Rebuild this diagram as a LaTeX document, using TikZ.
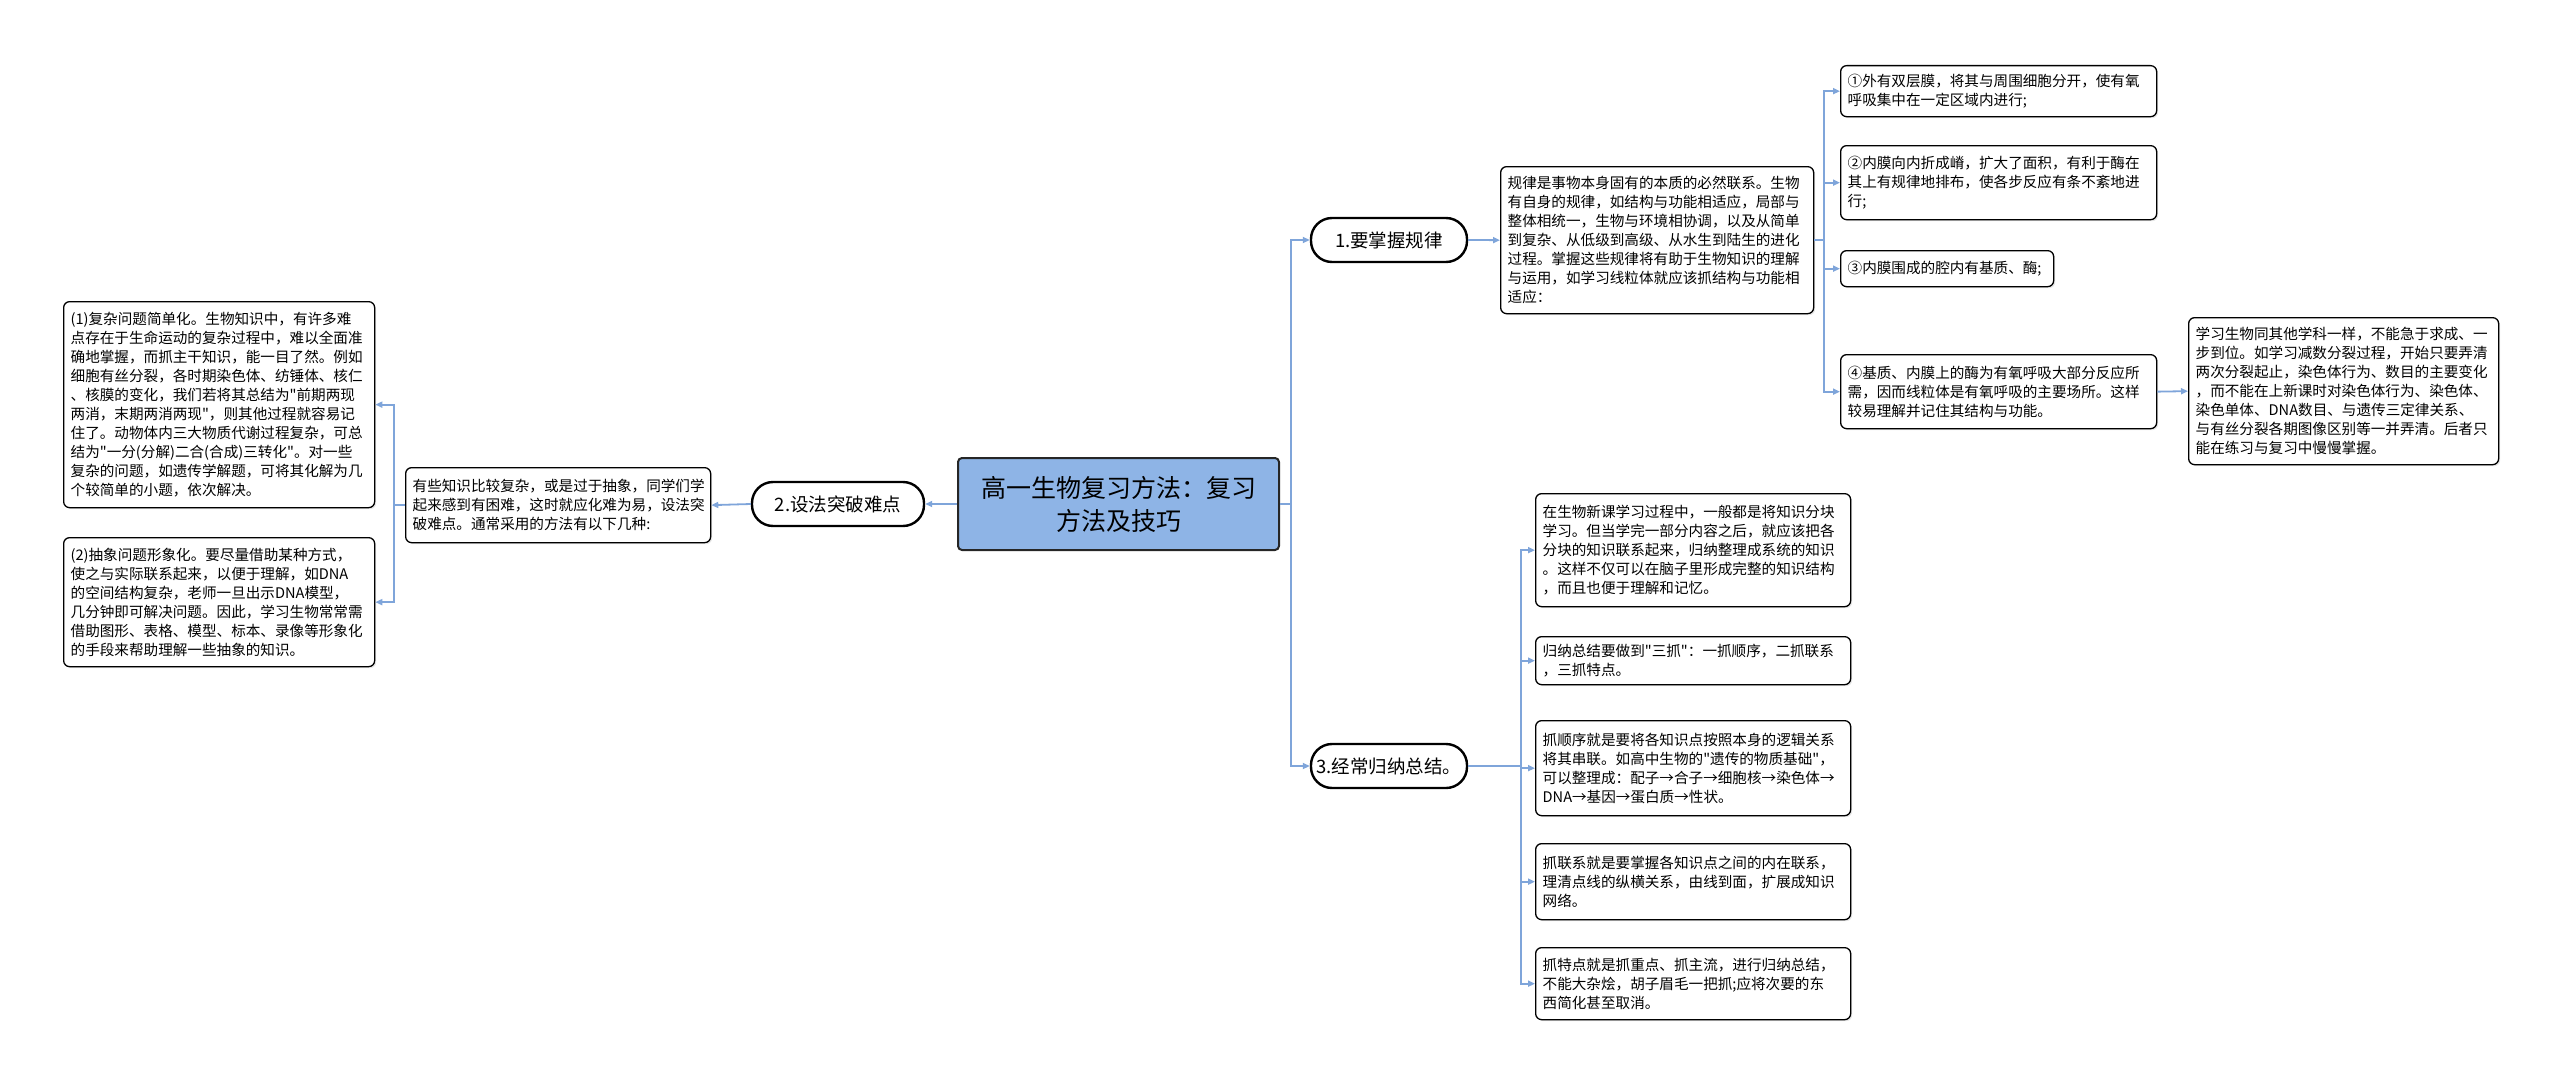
\documentclass[tikz,border=0pt]{standalone}
\usepackage{fontspec}
\newfontfamily\cjk{Noto Sans CJK SC}
\usetikzlibrary{arrows.meta, shadows}
\definecolor{rotblue}{HTML}{8EB4E6}
\definecolor{kantblue}{HTML}{7FA5DA}

\begin{document}
\begin{tikzpicture}[
    x=1pt, y=-1pt,
    rot/.style={rectangle, rounded corners=4pt, draw=black!85, line width=2pt,
        fill=rotblue, align=center, font=\cjk\fontsize{25}{33}\selectfont,
        minimum width=321pt, minimum height=92pt},
    gren/.style={rectangle, rounded corners=21pt, draw=black, line width=2.4pt,
        fill=white, font=\cjk\fontsize{18.5}{22}\selectfont, minimum height=44pt},
    blad/.style={rectangle, rounded corners=6pt, draw=black, line width=1.3pt,
        fill=white, drop shadow={opacity=0.2, shadow xshift=1.5pt, shadow yshift=-1.5pt},
        anchor=north west, align=left, inner xsep=7pt, inner ysep=4pt,
        font=\cjk\fontsize{14.6}{19}\selectfont},
    pil/.style={draw=kantblue, line width=1.8pt, -{Triangle[length=7pt, width=6pt]}}
    ]
\useasboundingbox (0,0) rectangle (2560,1081);

\node[rot] (rot) at (1118.5,504) {高一生物复习方法：复习\\方法及技巧};

%Upper part, lv1
\node[gren, minimum width=156pt] (regel) at (1389,240) {1.要掌握规律};
\node[blad, text width=299pt, minimum height=147pt] (lov) at (1500,166) {
    规律是事物本身固有的本质的必然联系。生物\\
    有自身的规律，如结构与功能相适应，局部与\\
    整体相统一，生物与环境相协调，以及从简单\\
    到复杂、从低级到高级、从水生到陆生的进化\\
    过程。掌握这些规律将有助于生物知识的理解\\
    与运用，如学习线粒体就应该抓结构与功能相\\
    适应：};
\node[blad, text width=302pt, minimum height=51pt] (lov1) at (1840,65) {
    ①外有双层膜，将其与周围细胞分开，使有氧\\
    呼吸集中在一定区域内进行;};
\node[blad, text width=302pt, minimum height=74pt] (lov2) at (1840,145) {
    ②内膜向内折成嵴，扩大了面积，有利于酶在\\
    其上有规律地排布，使各步反应有条不紊地进\\
    行;};
\node[blad, text width=199pt, minimum height=36pt] (lov3) at (1840,250) {
    ③内膜围成的腔内有基质、酶;};
\node[blad, text width=302pt, minimum height=74pt] (lov4) at (1840,354) {
    ④基质、内膜上的酶为有氧呼吸大部分反应所\\
    需，因而线粒体是有氧呼吸的主要场所。这样\\
    较易理解并记住其结构与功能。};
\node[blad, text width=296pt, minimum height=147pt] (steg) at (2188,317) {
    学习生物同其他学科一样，不能急于求成、一\\
    步到位。如学习减数分裂过程，开始只要弄清\\
    两次分裂起止，染色体行为、数目的主要变化\\
    ，而不能在上新课时对染色体行为、染色体、\\
    染色单体、DNA数目、与遗传三定律关系、\\
    与有丝分裂各期图像区别等一并弄清。后者只\\
    能在练习与复习中慢慢掌握。};

%Left part, lv1
\node[gren, minimum width=172pt] (vansk) at (838,504) {2.设法突破难点};
\node[blad, text width=291pt, minimum height=75pt] (vans) at (405,467) {
    有些知识比较复杂，或是过于抽象，同学们学\\
    起来感到有困难，这时就应化难为易，设法突\\
    破难点。通常采用的方法有以下几种:};
\node[blad, text width=297pt, minimum height=206pt] (enkel) at (63,301) {
    (1)复杂问题简单化。生物知识中，有许多难\\
    点存在于生命运动的复杂过程中，难以全面准\\
    确地掌握，而抓主干知识，能一目了然。例如\\
    细胞有丝分裂，各时期染色体、纺锤体、核仁\\
    、核膜的变化，我们若将其总结为"前期两现\\
    两消，末期两消两现"，则其他过程就容易记\\
    住了。动物体内三大物质代谢过程复杂，可总\\
    结为"一分(分解)二合(合成)三转化"。对一些\\
    复杂的问题，如遗传学解题，可将其化解为几\\
    个较简单的小题，依次解决。};
\node[blad, text width=297pt, minimum height=129pt] (bilde) at (63,537) {
    (2)抽象问题形象化。要尽量借助某种方式，\\
    使之与实际联系起来，以便于理解，如DNA\\
    的空间结构复杂，老师一旦出示DNA模型，\\
    几分钟即可解决问题。因此，学习生物常常需\\
    借助图形、表格、模型、标本、录像等形象化\\
    的手段来帮助理解一些抽象的知识。};

%Lower part, lv1
\node[gren, minimum width=156pt] (sum) at (1389,766) {3.经常归纳总结。};
\node[blad, text width=301pt, minimum height=113pt] (sum1) at (1535,493) {
    在生物新课学习过程中，一般都是将知识分块\\
    学习。但当学完一部分内容之后，就应该把各\\
    分块的知识联系起来，归纳整理成系统的知识\\
    。这样不仅可以在脑子里形成完整的知识结构\\
    ，而且也便于理解和记忆。};
\node[blad, text width=301pt, minimum height=48pt] (sum2) at (1535,636) {
    归纳总结要做到"三抓"：一抓顺序，二抓联系\\
    ，三抓特点。};
\node[blad, text width=301pt, minimum height=95pt] (sum3) at (1535,720) {
    抓顺序就是要将各知识点按照本身的逻辑关系\\
    将其串联。如高中生物的"遗传的物质基础"，\\
    可以整理成：配子→合子→细胞核→染色体→\\
    DNA→基因→蛋白质→性状。};
\node[blad, text width=301pt, minimum height=76pt] (sum4) at (1535,843) {
    抓联系就是要掌握各知识点之间的内在联系，\\
    理清点线的纵横关系，由线到面，扩展成知识\\
    网络。};
\node[blad, text width=301pt, minimum height=72pt] (sum5) at (1535,947) {
    抓特点就是抓重点、抓主流，进行归纳总结，\\
    不能大杂烩，胡子眉毛一把抓;应将次要的东\\
    西简化甚至取消。};

%connectors
\draw[pil] (rot.east) -- ++(11,0) |- (regel.west);
\draw[pil] (rot.east) -- ++(11,0) |- (sum.west);
\draw[pil] (rot.west) -- (vansk.east);
\draw[pil] (regel.east) -- (lov.west);
\foreach \n in {lov1, lov2, lov3, lov4}
    \draw[pil] (lov.east) -- ++(10,0) |- (\n.west);
\draw[pil] (lov4.east) -- (steg.west);
\draw[pil] (vansk.west) -- (vans.east);
\foreach \n in {enkel, bilde}
    \draw[pil] (vans.west) -- ++(-11,0) |- (\n.east);
\foreach \n in {sum1, sum2, sum3, sum4, sum5}
    \draw[pil] (sum.east) -- ++(53,0) |- (\n.west);
\end{tikzpicture}
\end{document}
